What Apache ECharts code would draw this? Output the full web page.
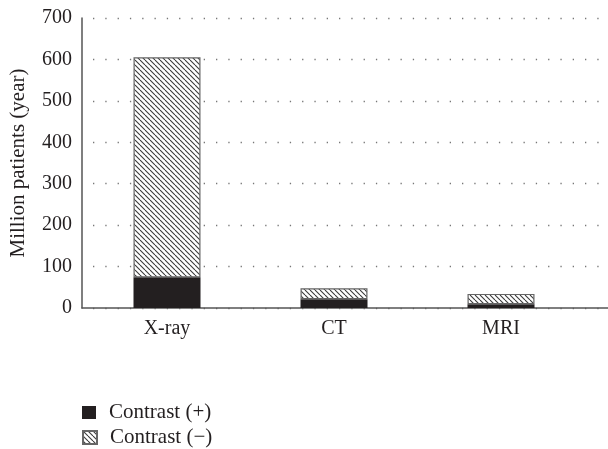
<!DOCTYPE html>
<html>
<head>
<meta charset="utf-8">
<style>
  html, body { margin: 0; padding: 0; background: #fff; }
  #chart { width: 608px; height: 449px; }
</style>
<script src="https://cdn.jsdelivr.net/npm/echarts@6/dist/echarts.min.js"></script>
</head>
<body>
<div id="chart"></div>
<script>
// data
const categories = ['X-ray', 'CT', 'MRI'];
const contrastPlus = [74, 21, 9];
const contrastMinus = [531, 26.5, 25];
const yTicks = [0, 100, 200, 300, 400, 500, 600, 700];
const seriesNames = ['Contrast (+)', 'Contrast (\u2212)'];

const FONT = 'Liberation Serif';
const TEXT = '#231f20';
const DARK = '#231f20';

// diagonal hatch tile (\\\ direction)
function makeHatch() {
    const n = 5;
    const c = document.createElement('canvas');
    c.width = n;
    c.height = n;
    const ctx = c.getContext('2d');
    ctx.fillStyle = '#fff';
    ctx.fillRect(0, 0, n, n);
    ctx.strokeStyle = '#3a3a3a';
    ctx.lineWidth = 1.1;
    [-n, 0, n].forEach(x0 => {
        ctx.beginPath();
        ctx.moveTo(x0, 0);
        ctx.lineTo(x0 + n, n);
        ctx.stroke();
    });
    return c;
}

// one legend per entry, stacked by hand
function legendRow(name, top) {
    return {
        left: 77,
        top: top,
        icon: 'rect',
        itemWidth: 14,
        itemHeight: 13,
        data: [name],
        textStyle: {fontFamily: FONT, fontSize: 21, color: TEXT, padding: [0, 0, 0, 8]}
    };
}

const chart = echarts.init(document.getElementById('chart'), null, {renderer: 'canvas'});

chart.setOption({
    animation: false,
    backgroundColor: '#fff',
    textStyle: {fontFamily: FONT, color: TEXT},
    legend: [legendRow(seriesNames[0], 397), legendRow(seriesNames[1], 422)],
    grid: [
        // bars
        {left: 83.5, right: 608 - 584.5, top: 18, bottom: 141, containLabel: false},
        // frame, dotted lines and y labels
        {left: 82, right: 0, top: 18, bottom: 141, containLabel: false}
    ],
    xAxis: [
        {
            type: 'category',
            gridIndex: 0,
            data: categories,
            axisLine: {show: false},
            axisTick: {show: false},
            axisLabel: {fontFamily: FONT, fontSize: 20, color: TEXT, margin: 11}
        },
        {
            type: 'category',
            gridIndex: 1,
            data: [''],
            axisLine: {lineStyle: {color: '#555', width: 1.5}},
            axisTick: {show: false},
            axisLabel: {show: false}
        }
    ],
    yAxis: [
        {
            type: 'value',
            gridIndex: 0,
            min: 0,
            max: 700,
            interval: 100,
            show: false,
            splitLine: {show: false}
        },
        {
            type: 'value',
            gridIndex: 1,
            min: yTicks[0],
            max: yTicks[yTicks.length - 1],
            interval: 100,
            name: 'Million patients (year)',
            nameLocation: 'middle',
            nameGap: 53,
            nameTextStyle: {fontFamily: FONT, fontSize: 21, color: TEXT},
            axisLine: {show: true, lineStyle: {color: '#555', width: 1.5}},
            axisTick: {show: false},
            axisLabel: {fontFamily: FONT, fontSize: 20, color: TEXT, margin: 10},
            splitLine: {
                show: true,
                lineStyle: {color: '#777', width: 1.3, type: [1.3, 11], dashOffset: -11}
            }
        }
    ],
    series: [
        {
            name: seriesNames[0],
            type: 'bar',
            stack: 'total',
            xAxisIndex: 0,
            yAxisIndex: 0,
            barWidth: 67,
            data: contrastPlus,
            itemStyle: {color: DARK}
        },
        {
            name: seriesNames[1],
            type: 'bar',
            stack: 'total',
            xAxisIndex: 0,
            yAxisIndex: 0,
            barWidth: 67,
            data: contrastMinus,
            itemStyle: {
                color: {image: makeHatch(), repeat: 'repeat'},
                borderColor: '#666',
                borderWidth: 1.2
            }
        }
    ]
});
</script>
</body>
</html>
